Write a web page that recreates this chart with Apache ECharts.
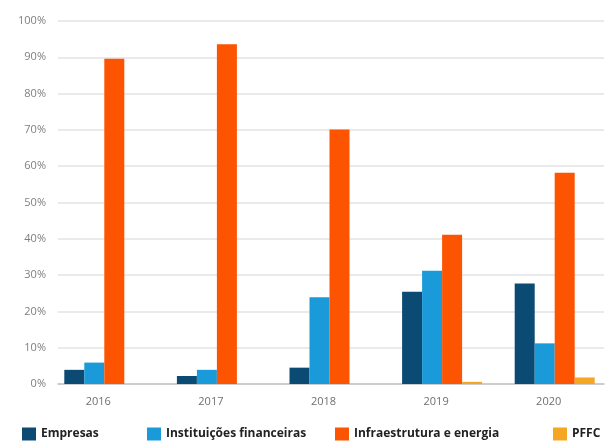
<!DOCTYPE html>
<html>
<head>
<meta charset="utf-8">
<script src="https://cdn.jsdelivr.net/npm/echarts@6/dist/echarts.min.js"></script>
<style>
html,body{margin:0;padding:0;background:#fff;}
#c{width:611px;height:441px;}
</style>
</head>
<body>
<div id="c"></div>
<script>
const categories = ['2016', '2017', '2018', '2019', '2020'];
const empresas = [3.9, 2.2, 4.5, 25.4, 27.7];
const instituicoes = [5.9, 3.9, 23.9, 31.2, 11.2];
const infraestrutura = [89.6, 93.6, 70.1, 41.1, 58.2];
const pffc = [0, 0, 0, 0.6, 1.8];
const yTicks = [0, 10, 20, 30, 40, 50, 60, 70, 80, 90, 100];

const seriesNames = ['Empresas', 'Instituições financeiras', 'Infraestrutura e energia', 'PFFC'];
const seriesData = [empresas, instituicoes, infraestrutura, pffc];
const colors = ['#0b4a73', '#1a9ad9', '#fc5400', '#f5a623'];
const legendLeft = [22, 147, 335, 553];

const chart = echarts.init(document.getElementById('c'));
const font = 'Open Sans';
const option = {
  animation: false,
  grid: [
    {left: 58, right: 7, top: 21, bottom: 57},
    {left: 48, right: 0, top: 21, bottom: 57}
  ],
  xAxis: [
    {gridIndex: 0, type: 'value', min: 0, max: 1, axisLine: {show: true, onZero: false, lineStyle: {color: '#c4c4c4', width: 1.5}},
     axisTick: {show: false}, axisLabel: {show: false}, splitLine: {show: false}},
    {gridIndex: 1, type: 'category', data: categories, axisLine: {show: false}, axisTick: {show: false},
     axisLabel: {color: '#6f6f6f', fontFamily: font, fontSize: 11, margin: 12, padding: [0, 12, 0, 0]}}
  ],
  yAxis: [
    {gridIndex: 0, type: 'value', min: 0, max: 100, interval: 10,
     axisLine: {show: false}, axisTick: {show: false},
     axisLabel: {color: '#7f7f7f', fontFamily: font, fontSize: 11, margin: 12,
       formatter: v => yTicks.includes(v) ? v + '%' : ''},
     splitLine: {lineStyle: {color: '#e3e3e3', width: 1.5}}},
    {gridIndex: 1, type: 'value', min: 0, max: 100, interval: 10, show: false, splitLine: {show: false}}
  ],
  legend: seriesNames.map((n, i) => ({
    data: [n], left: legendLeft[i], top: 427, padding: 0, icon: 'rect', itemWidth: 14, itemHeight: 13,
    textStyle: {color: '#222', fontFamily: font, fontWeight: 'bold', fontSize: 12, lineHeight: 14}
  })),
  series: seriesNames.map((n, i) => ({
    name: n, type: 'bar', xAxisIndex: 1, yAxisIndex: 1, data: seriesData[i],
    barWidth: 20, barGap: '0%', itemStyle: {color: colors[i]}
  }))
};
chart.setOption(option);
</script>
</body>
</html>
